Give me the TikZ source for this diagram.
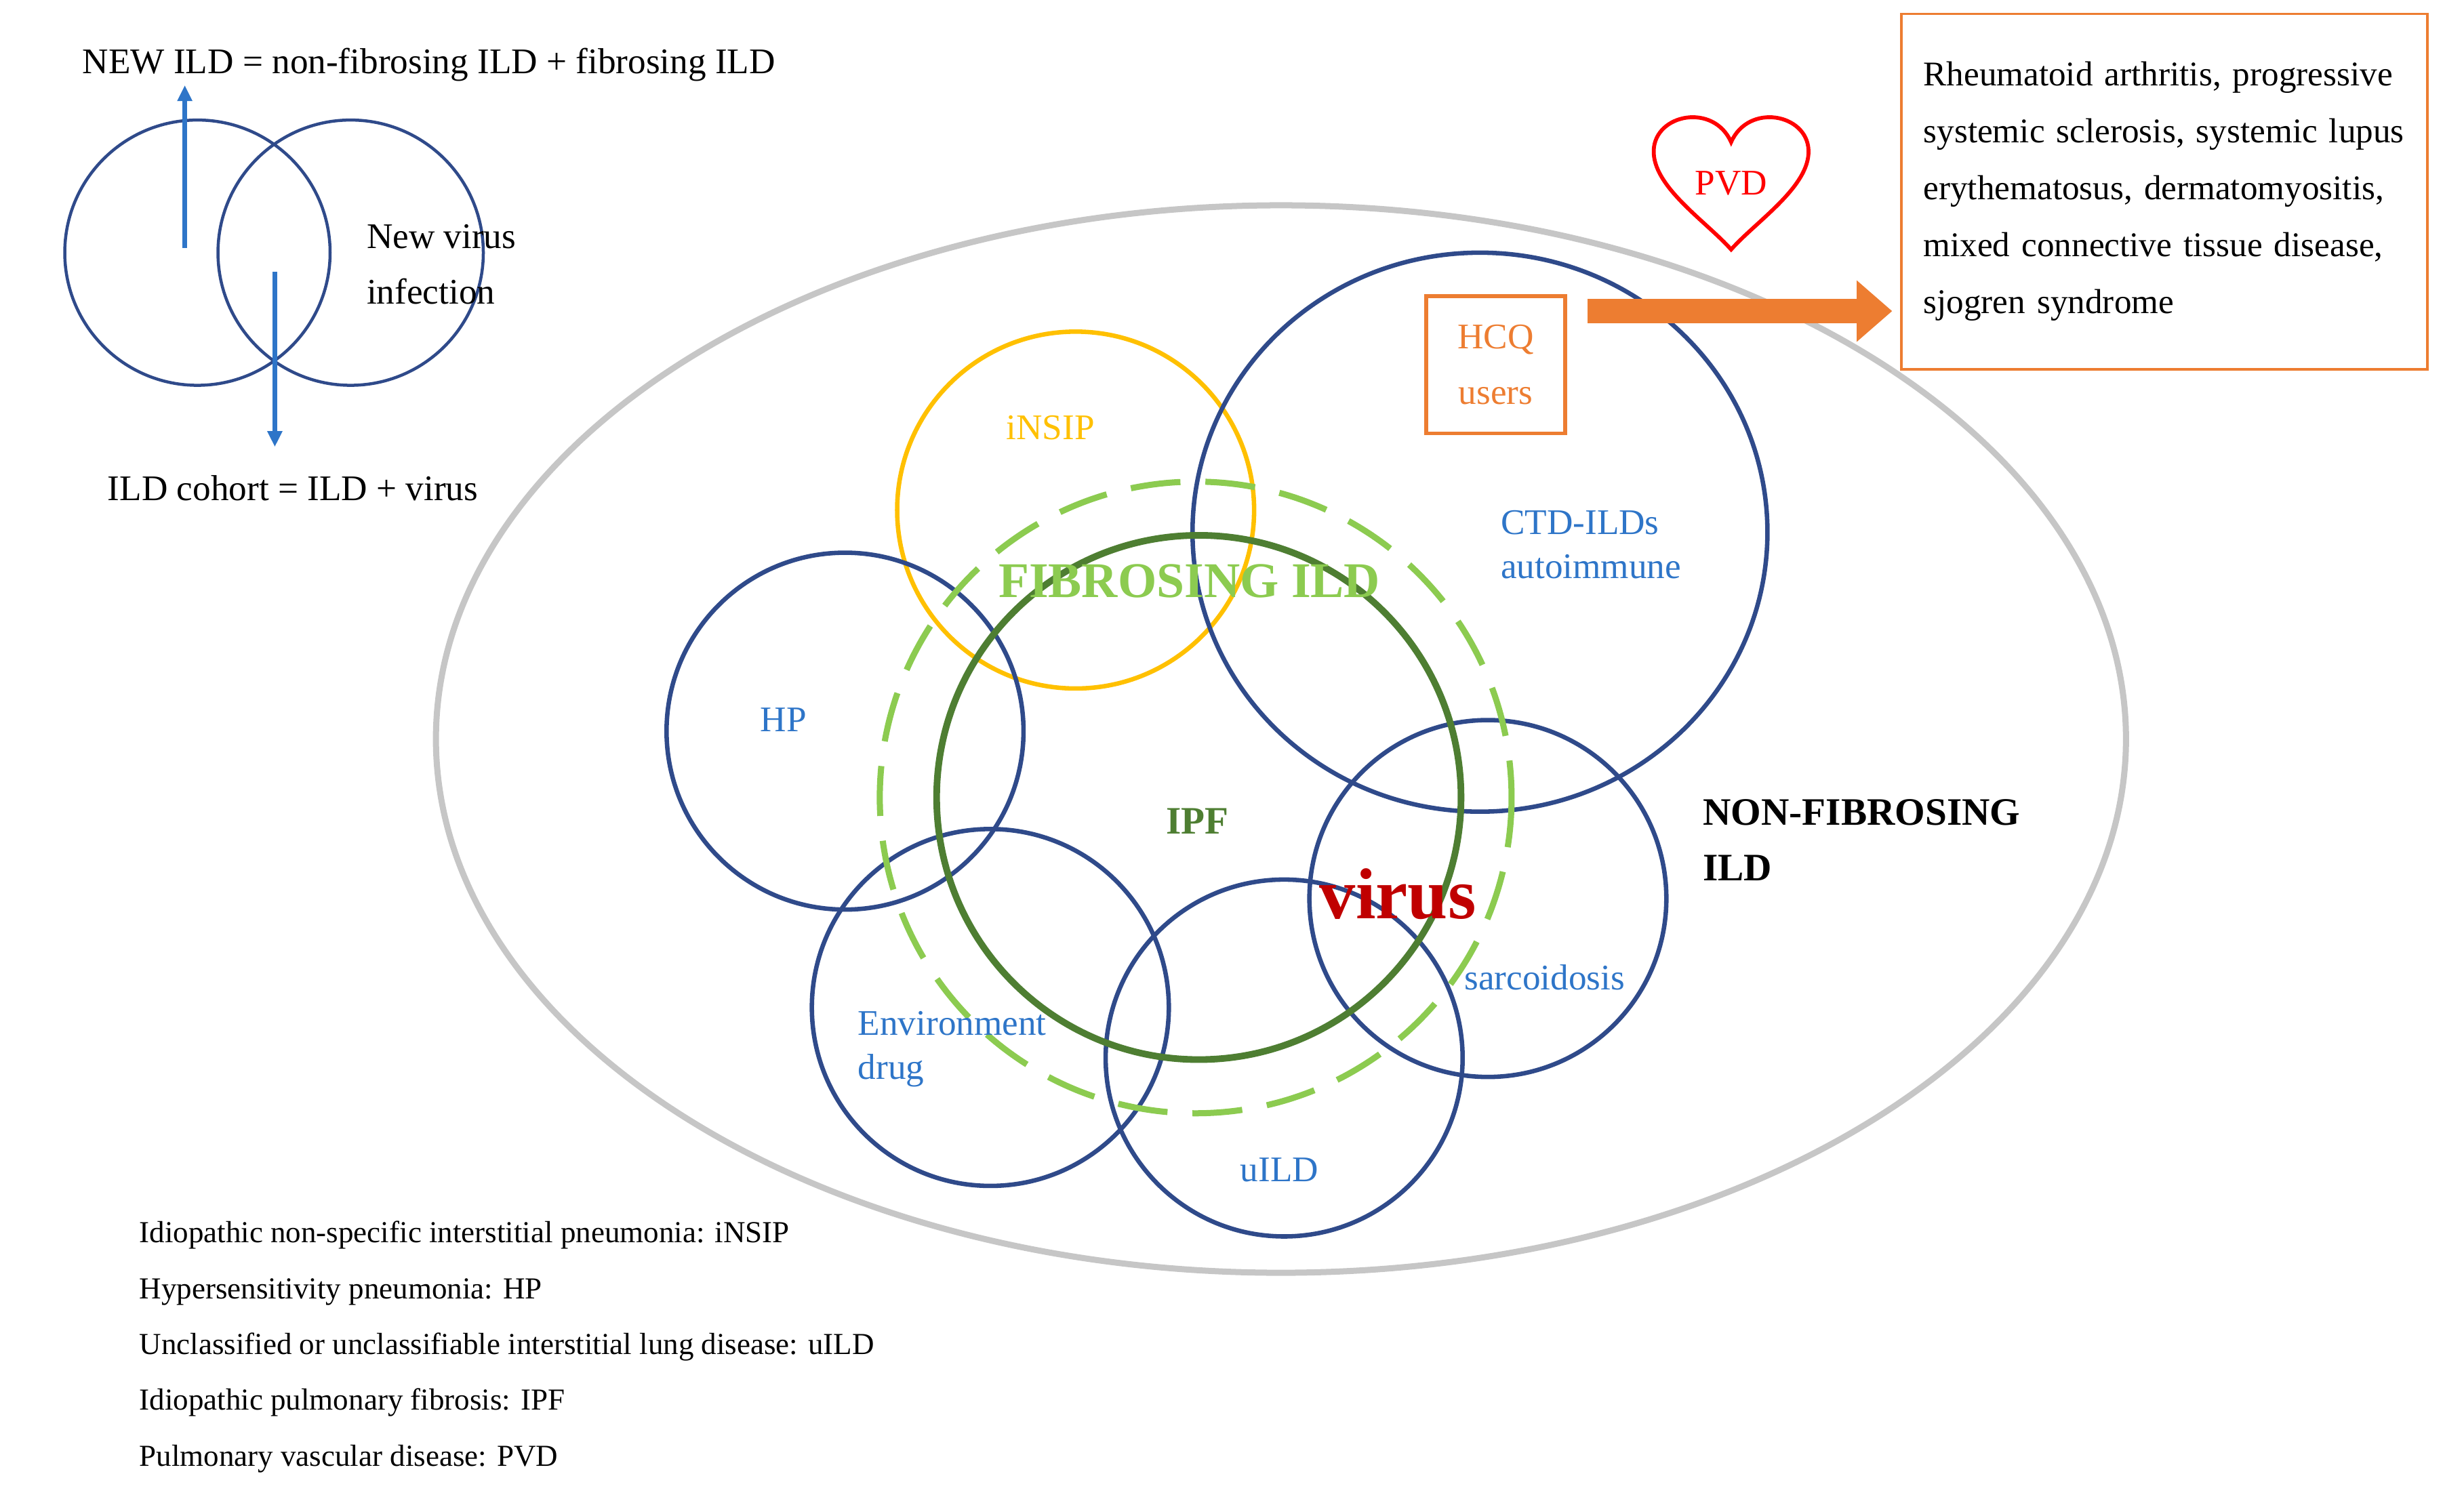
\documentclass[tikz,border=0pt]{standalone}
\usepackage{fontspec}
\setmainfont{Liberation Serif}
\usetikzlibrary{arrows.meta}
\definecolor{cblue}{HTML}{2F4A8A}
\definecolor{tblue}{HTML}{2E75C8}
\definecolor{lgreen}{HTML}{8CCB50}
\definecolor{dgreen}{HTML}{4E7E32}
\definecolor{yel}{HTML}{FFC000}
\definecolor{org}{HTML}{ED7D31}
\definecolor{vred}{HTML}{C00000}
\begin{document}
\begin{tikzpicture}[x=0.02cm,y=-0.02cm,
  circ/.style={draw=cblue,line width=1.6pt},
  lbl/.style={font=\fontsize{13}{16}\selectfont,text=tblue,align=left},
  txt/.style={font=\fontsize{13}{20}\selectfont,align=left},
  leg/.style={font=\fontsize{11}{13}\selectfont,anchor=west}]
\useasboundingbox (0,0) rectangle (1560,948);
% big ellipse
\draw[gray!45,line width=2.2pt] (811,468) ellipse [x radius=535,y radius=338];
% circles
\draw[yel,line width=1.6pt] (681,323) circle [radius=113];
\draw[circ] (535,463) circle [radius=113];
\draw[circ] (627,638) circle [radius=113];
\draw[circ] (813,670) circle [radius=113];
\draw[circ] (942,569) circle [radius=113];
\draw[circ] (937,337) ellipse [x radius=182,y radius=177];
\draw[lgreen,line width=2.2pt,dash pattern=on 18pt off 9pt] (757,505) circle [radius=200];
\draw[dgreen,line width=2.4pt] (759,505) circle [radius=166];
% labels
\node[font=\fontsize{13}{16}\selectfont,text=yel] (insip) at (665,271) {iNSIP};
\node[font=\bfseries\fontsize{18}{20}\selectfont,text=lgreen] (fib) at (753,368) {FIBROSING ILD};
\node[font=\bfseries\fontsize{14}{16}\selectfont,text=dgreen] (ipf) at (758,520) {IPF};
\node[font=\bfseries\fontsize{26}{28}\selectfont,text=vred] (virus) at (885,566) {virus};
\node[lbl] (hp) at (496,456) {HP};
\node[lbl,anchor=north west] (env) at (537,634) {Environment\\drug};
\node[lbl] (uild) at (810,741) {uILD};
\node[lbl] (sarc) at (978,619) {sarcoidosis};
\node[lbl,anchor=north west] (ctd) at (944,317) {CTD-ILDs\\autoimmune};
\node[font=\bfseries\fontsize{14}{20}\selectfont,align=left,anchor=north west] (nonfib) at (1072,500) {NON-FIBROSING\\ILD};
% HCQ
\node[draw=org,line width=1.4pt,minimum width=88\pgflinewidth,text=org,align=center,font=\fontsize{13}{20}\selectfont,inner sep=0pt,minimum width=1.76cm,minimum height=1.74cm] (hcq) at (947,231) {HCQ\\users};
\node[draw=org,line width=0.9pt,anchor=north west,align=left,font=\fontsize{12.5}{20.5}\selectfont,text width=6.1cm,inner sep=0.28cm,minimum height=4.5cm] (box) at (1203,8) {Rheumatoid arthritis, progressive systemic sclerosis, systemic lupus erythematosus, dermatomyositis, mixed connective tissue disease, sjogren syndrome};
\coordinate (as) at (1005,197);
\coordinate (ae) at (1198,197);
\draw[org,line width=9pt,-{Triangle[length=0.45cm,width=0.75cm]}] (as) -- (ae);
% heart
\draw[red,line width=1.4pt] (1096,158) .. controls (1080,140) and (1046,118) .. (1047,95)
  .. controls (1048,72) and (1085,65) .. (1096,90)
  .. controls (1107,65) and (1144,72) .. (1145,95)
  .. controls (1146,118) and (1112,140) .. (1096,158) -- cycle;
\node[text=red,font=\fontsize{13}{16}\selectfont] (pvd) at (1096,116) {PVD};
% top left
\node[txt,anchor=west] (newild) at (46,41) {NEW ILD = non-fibrosing ILD + fibrosing ILD};
\draw[cblue,line width=1.1pt] (125,160) circle [radius=84];
\draw[cblue,line width=1.1pt] (222,160) circle [radius=84];
\node[txt,anchor=north west] (nv) at (226,136) {New virus\\infection};
\node[txt,anchor=west] (cohort) at (62,309) {ILD cohort = ILD + virus};
\coordinate (u1) at (117,157); \coordinate (u2) at (117,54);
\coordinate (d1) at (174,172); \coordinate (d2) at (174,283);
\draw[tblue,line width=1.6pt,-{Triangle[length=0.2cm,width=0.18cm]}] (u1) -- (u2);
\draw[tblue,line width=1.6pt,-{Triangle[length=0.2cm,width=0.18cm]}] (d1) -- (d2);
% legend
\node[leg] (l1) at (82,782) {Idiopathic non-specific interstitial pneumonia: iNSIP};
\node[leg] (l2) at (82,818) {Hypersensitivity pneumonia: HP};
\node[leg] (l3) at (82,853) {Unclassified or unclassifiable interstitial lung disease: uILD};
\node[leg] (l4) at (82,888) {Idiopathic pulmonary fibrosis: IPF};
\node[leg] (l5) at (82,924) {Pulmonary vascular disease: PVD};
\end{tikzpicture}
\end{document}
